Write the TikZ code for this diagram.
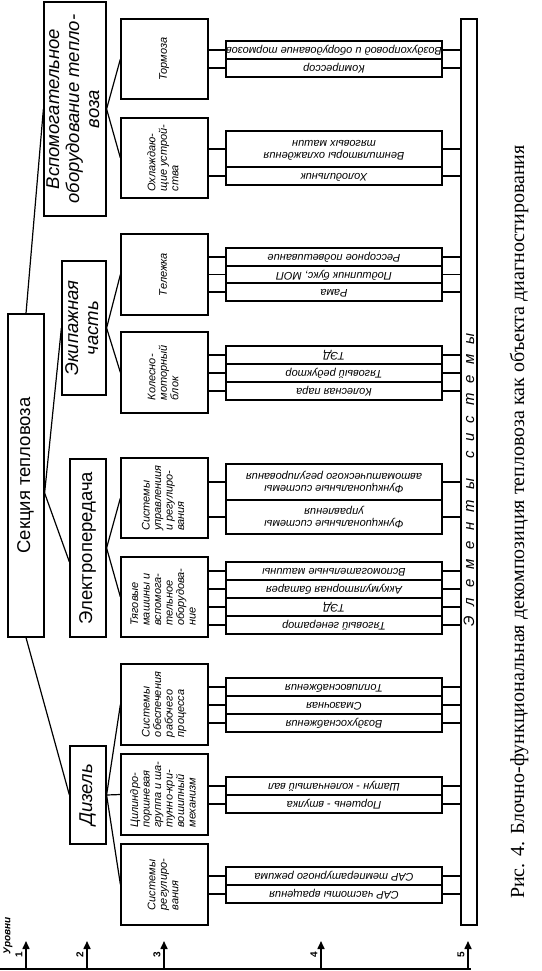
\documentclass[tikz,border=0pt]{standalone}
\usepackage{fontspec}
\setmainfont{Liberation Serif}
\newfontfamily\ar{Liberation Sans}
\usepackage{graphicx}
\usetikzlibrary{arrows.meta,calc}
\newcommand\rt[1]{\rotatebox{90}{\begin{tabular}{@{}c@{}}#1\end{tabular}}}
\newcommand\rl[1]{\rotatebox{90}{\begin{tabular}{@{}l@{}}#1\end{tabular}}}
\newcommand\rf[1]{\rotatebox{180}{\begin{tabular}{@{}c@{}}#1\end{tabular}}}
\newcommand\bx[7]{\node[#6, minimum width={(#4-#2)*1pt}, minimum height={(#5-#3)*1pt}] (#1) at ({(#2+#4)/2},{(#3+#5)/2}) {#7};}
\newcommand\lk{\kern10pt }
\begin{document}
\begin{tikzpicture}[x=1pt,y=-1pt,
  bx/.style={draw, line width=1.2pt, inner sep=0pt, fill=white},
  l1/.style={bx, font=\ar\fontsize{18.5}{21}\selectfont},
  l2/.style={bx, font=\ar\fontsize{18.5}{20.5}\selectfont},
  l2i/.style={bx, font=\ar\itshape\fontsize{18.5}{20}\selectfont},
  l3/.style={bx, font=\ar\itshape\fontsize{11}{11.5}\selectfont},
  el/.style={bx, font=\ar\itshape\fontsize{11}{12}\selectfont},
  ln/.style={line width=1.2pt},
  lvl/.style={inner sep=0pt, font=\ar\bfseries\fontsize{10}{12}\selectfont},
  capst/.style={inner sep=0pt, font=\fontsize{20}{22}\selectfont},
  bartxt/.style={inner sep=0pt, font=\ar\itshape\fontsize{15}{17}\selectfont}
]
\useasboundingbox (0,0) rectangle (541,971);
% level 1 and 2
\bx{sek}{8}{314}{44}{637}{l1}{\rt{Секция тепловоза}}
\bx{vsp}{44}{2}{106}{216}{l2i}{\rt{Вспомогательное\\оборудование тепло-\\воза}}
\bx{eki}{62}{261}{106}{395}{l2i}{\rt{Экипажная\\часть}}
\bx{ele}{70}{459}{106}{637}{l2}{\rt{Электропередача}}
\bx{diz}{70}{746}{106}{844}{l2i}{\rt{Дизель}}
% level 3
\bx{tor}{121}{19}{208}{99}{l3}{\rl{Тормоза}}
\bx{ohl}{121}{118}{208}{198}{l3}{\rl{Охлаждаю-\\щие устрой-\\ства}}
\bx{tel}{121}{234}{208}{315}{l3}{\rl{Тележка}}
\bx{kmb}{121}{332}{208}{413}{l3}{\rl{Колесно-\\моторный\\блок}}
\bx{sur}{121}{458}{208}{538}{l3}{\rl{Системы\\управлениия\\и регулиро-\\вания}}
\bx{tyag}{121}{557}{208}{637}{l3}{\rl{Тяговые\\машины и\\вспомога-\\тельное\\оборудова-\\ние}}
\bx{sorp}{121}{664}{208}{745}{l3}{\rl{Системы\\обеспечения\\рабочего\\процесса}}
\bx{cpg}{121}{754}{208}{835}{l3}{\rl{Цилиндро-\\поршневая\\группа и ша-\\тунно-кри-\\вошипный\\механизм}}
\bx{sreg}{121}{844}{208}{925}{l3}{\rl{Системы\\регулиро-\\вания}}
% level 5 bar
\bx{bar}{461}{19}{477}{925}{bx}{}
\node[bartxt] (bart) at (469,480) {\rotatebox{90}{Э\lk л\lk е\lk м\lk е\lk н\lk т\lk ы\kern20pt с\lk и\lk с\lk т\lk е\lk м\lk ы}};
% level 4 elements
\bx{e1}{226}{41}{442}{59}{el}{\rf{Воздухопровод и оборудование тормозов}}
\bx{e2}{226}{59}{442}{77}{el}{\rf{Компрессор}}
\bx{e3}{226}{131}{442}{167}{el}{\rf{Вентиляторы охлаждения\\тяговых машин}}
\bx{e4}{226}{167}{442}{185}{el}{\rf{Холодильник}}
\bx{e5}{226}{248}{442}{266}{el}{\rf{Рессорное подвешивание}}
\bx{e6}{226}{266}{442}{283}{el}{\rf{Подшипник букс, МОП}}
\bx{e7}{226}{283}{442}{301}{el}{\rf{Рама}}
\bx{e8}{226}{346}{442}{364}{el}{\rf{ТЭД}}
\bx{e9}{226}{364}{442}{382}{el}{\rf{Тяговый редуктор}}
\bx{e10}{226}{382}{442}{400}{el}{\rf{Колесная пара}}
\bx{e11}{226}{464}{442}{500}{el}{\rf{Функциональные системы\\автоматического регулирования}}
\bx{e12}{226}{500}{442}{534}{el}{\rf{Функциональные системы\\управления}}
\bx{e13}{226}{562}{442}{580}{el}{\rf{Вспомогательные машины}}
\bx{e14}{226}{580}{442}{598}{el}{\rf{Аккумуляторная батарея}}
\bx{e15}{226}{598}{442}{616}{el}{\rf{ТЭД}}
\bx{e16}{226}{616}{442}{634}{el}{\rf{Тяговый генератор}}
\bx{e17}{226}{678}{442}{696}{el}{\rf{Топливоснабжения}}
\bx{e18}{226}{696}{442}{714}{el}{\rf{Смазочная}}
\bx{e19}{226}{714}{442}{732}{el}{\rf{Воздухоснабжения}}
\bx{e20}{226}{777}{442}{795}{el}{\rf{Шатун - коленчатый вал}}
\bx{e21}{226}{795}{442}{813}{el}{\rf{Поршень - втулка}}
\bx{e22}{226}{867}{442}{885}{el}{\rf{САР температурного режима}}
\bx{e23}{226}{885}{442}{903}{el}{\rf{САР частоты вращения}}
% connectors level 3 -> level 4 -> bar
\foreach \e/\p in {e1/tor,e2/tor,e3/ohl,e4/ohl,e5/tel,e6/tel,e7/tel,e8/kmb,e9/kmb,e10/kmb,e11/sur,e12/sur,e13/tyag,e14/tyag,e15/tyag,e16/tyag,e17/sorp,e18/sorp,e19/sorp,e20/cpg,e21/cpg,e22/sreg,e23/sreg}{
  \draw[ln] (\e.west -| \p.east) -- (\e.west);
  \draw[ln] (\e.east) -- (\e.east -| bar.west);
}
% level 2 -> level 3
\foreach \a/\b in {vsp/tor,vsp/ohl,eki/tel,eki/kmb,ele/sur,ele/tyag,diz/sorp,diz/cpg,diz/sreg}{
  \draw[ln] (\a.east) -- (\b.west);
}
% level 1 -> level 2
\coordinate (sekr) at (sek.east |- 0,493);
\coordinate (elel) at (ele.west |- 0,562);
\draw[ln] (sek.north) -- (vsp.west);
\draw[ln] (sekr) -- (eki.west);
\draw[ln] (sekr) -- (elel);
\draw[ln] (sek.south) -- (diz.west);
% levels axis
\coordinate (ax0) at (0,969);
\coordinate (ax1) at (471,969);
\draw[line width=2pt] (ax0) -- (ax1);
\foreach \i/\x in {1/26,2/87,3/164,4/321,5/468}{
  \coordinate (lb\i) at (\x,969);
  \coordinate (lt\i) at (\x,941);
  \draw[line width=1.6pt,-{Triangle[length=8pt,width=7pt]}] (lb\i) -- (lt\i);
  \node[lvl] (ln\i) at (\x-7,955) {\rotatebox{90}{\i}};
}
\node[lvl, font=\ar\bfseries\itshape\fontsize{10}{12}\selectfont] (urov) at (8,936) {\rotatebox{90}{Уровни}};
% caption
\node[capst] (capt) at (519,522) {\rotatebox{90}{Рис. 4. Блочно-функциональная декомпозиция тепловоза как объекта диагностирования}};
\end{tikzpicture}
\end{document}
